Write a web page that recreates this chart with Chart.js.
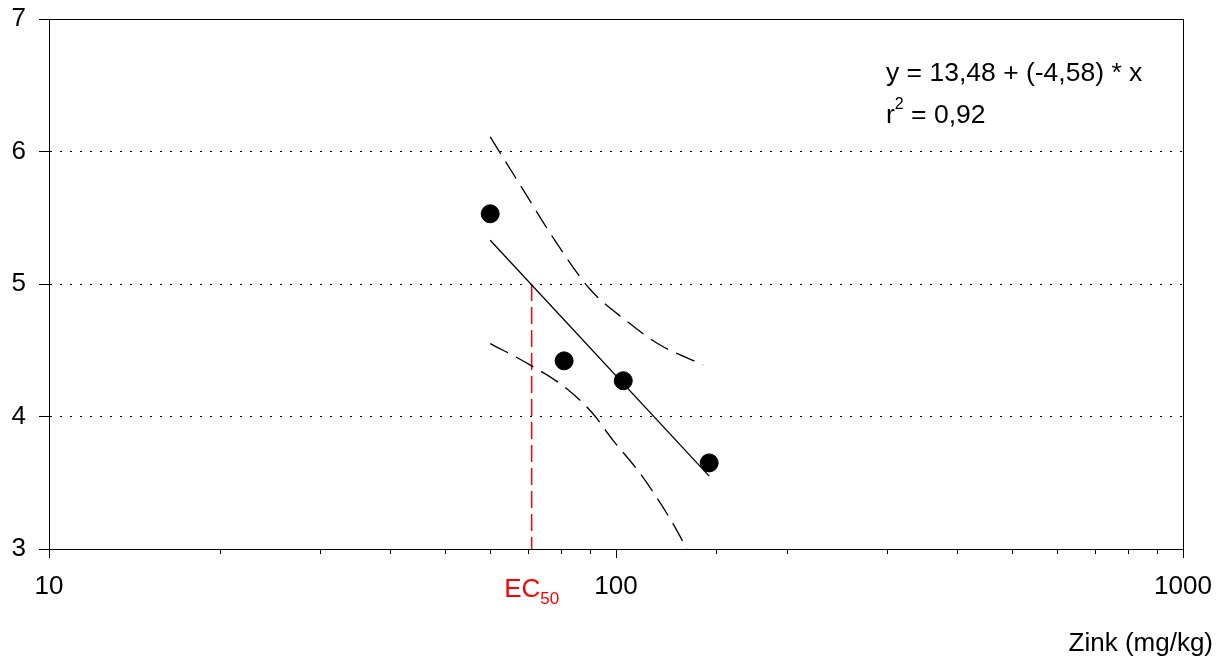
<!DOCTYPE html>
<html>
<head>
<meta charset="utf-8">
<script src="https://cdn.jsdelivr.net/npm/chart.js@4"></script>
<style>
  body { margin: 0; background: #fff; }
  canvas { display: block; }
</style>
</head>
<body>
<canvas id="myChart" width="1225" height="662"></canvas>
<script>
// values
const zink = [60, 81, 103, 146];
const response = [5.53, 4.42, 4.27, 3.65];

const fitX = [60, 146];
const fitY = [5.33, 3.55];

const upperX = [60, 67.7, 78, 90, 103.7, 119.6, 142.4];
const upperY = [6.11, 5.75, 5.33, 4.96, 4.73, 4.54, 4.39];

const lowerX = [60, 70.5, 81.3, 90.7, 98.8, 110.3, 124.5, 133.4];
const lowerY = [4.55, 4.39, 4.22, 4.03, 3.82, 3.57, 3.23, 3.0];

const ec50 = 71;
const ec50Y = [5, 3];

const xLabels = [10, 100, 1000];
const yMin = 3, yMax = 7;

const FONT = 'Arial, "Liberation Sans", sans-serif';

const toXY = (xs, ys) => xs.map((x, i) => ({ x: x, y: ys[i] }));

const extras = {
  id: 'extras',
  afterDraw(chart) {
    const c = chart.ctx;
    const a = chart.chartArea;
    const sx = chart.scales.x;
    c.save();
    // frame
    c.strokeStyle = '#000';
    c.lineWidth = 1;
    c.strokeRect(a.left + 0.5, a.top + 0.5, a.right - a.left, a.bottom - a.top);
    // x ticks, long at decades
    c.beginPath();
    sx.ticks.forEach(t => {
      const px = Math.round(sx.getPixelForValue(t.value)) + 0.5;
      const major = Math.abs(Math.log10(t.value) - Math.round(Math.log10(t.value))) < 1e-9;
      c.moveTo(px, a.bottom);
      c.lineTo(px, a.bottom + (major ? 9 : 5));
    });
    c.stroke();

    // EC50 label
    const ex = sx.getPixelForValue(ec50);
    c.fillStyle = '#ff0000';
    c.textBaseline = 'alphabetic';
    c.font = '26px ' + FONT;
    const w1 = c.measureText('EC').width;
    c.font = '17px ' + FONT;
    const w2 = c.measureText('50').width;
    const x0 = ex - (w1 + w2) / 2;
    c.font = '26px ' + FONT;
    c.fillText('EC', x0, 597);
    c.font = '17px ' + FONT;
    c.fillText('50', x0 + w1, 604);

    // equation
    c.fillStyle = '#000';
    c.font = '26.5px ' + FONT;
    c.fillText('y = 13,48 + (-4,58) * x', 886, 81);
    c.fillText('r', 886, 123);
    const rw = c.measureText('r').width;
    c.font = '16px ' + FONT;
    c.fillText('2', 886 + rw, 109);
    const sw = c.measureText('2').width;
    c.font = '26.5px ' + FONT;
    c.fillText(' = 0,92', 886 + rw + sw, 123);

    // axis title
    c.font = '26px ' + FONT;
    c.textAlign = 'right';
    c.fillText('Zink (mg/kg)', 1213, 651);
    c.restore();
  }
};

const ctx = document.getElementById('myChart');

const myChart = new Chart(ctx, {
  type: 'scatter',
  data: {
    datasets: [
      {
        label: 'Messwerte',
        data: toXY(zink, response),
        backgroundColor: '#000',
        borderColor: '#000',
        pointRadius: 9,
        pointHoverRadius: 9,
        order: 0
      },
      {
        label: 'Regression',
        data: toXY(fitX, fitY),
        showLine: true,
        borderColor: '#000',
        borderWidth: 1.3,
        pointRadius: 0,
        order: 1
      },
      {
        label: 'oben',
        data: toXY(upperX, upperY),
        showLine: true,
        borderColor: '#000',
        borderWidth: 1.3,
        borderDash: [20, 9],
        pointRadius: 0,
        cubicInterpolationMode: 'monotone',
        order: 1
      },
      {
        label: 'unten',
        data: toXY(lowerX, lowerY),
        showLine: true,
        borderColor: '#000',
        borderWidth: 1.3,
        borderDash: [20, 9],
        pointRadius: 0,
        cubicInterpolationMode: 'monotone',
        order: 1
      },
      {
        label: 'EC50',
        data: toXY([ec50, ec50], ec50Y),
        showLine: true,
        borderColor: '#ff0000',
        borderWidth: 1.5,
        borderDash: [17, 6],
        pointRadius: 0,
        order: 1
      }
    ]
  },
  options: {
    responsive: false,
    animation: false,
    devicePixelRatio: 1,
    layout: { padding: { top: 19, right: 42, left: 0, bottom: 0 } },
    plugins: {
      legend: { display: false },
      tooltip: { enabled: false }
    },
    scales: {
      x: {
        type: 'logarithmic',
        min: 10,
        max: 1000,
        afterFit: s => { s.height = 113; s.paddingLeft = 0; s.paddingRight = 0; },
        grid: { display: false, drawTicks: false },
        border: { display: true, color: '#000', width: 1 },
        ticks: {
          autoSkip: false,
          maxRotation: 0,
          padding: 22,
          color: '#000',
          font: { size: 26, family: FONT },
          callback: v => xLabels.includes(v) ? String(v) : ''
        }
      },
      y: {
        min: yMin,
        max: yMax,
        afterFit: s => { s.width = 49; s.paddingTop = 0; s.paddingBottom = 0; },
        grid: {
          color: '#000',
          lineWidth: 1,
          drawTicks: true,
          tickLength: 10,
          tickColor: '#000',
          tickBorderDash: []
        },
        border: { display: true, color: '#000', width: 1, dash: [2, 8] },
        ticks: {
          stepSize: 1,
          padding: 13,
          color: '#000',
          font: { size: 26, family: FONT }
        }
      }
    }
  },
  plugins: [extras]
});
</script>
</body>
</html>
